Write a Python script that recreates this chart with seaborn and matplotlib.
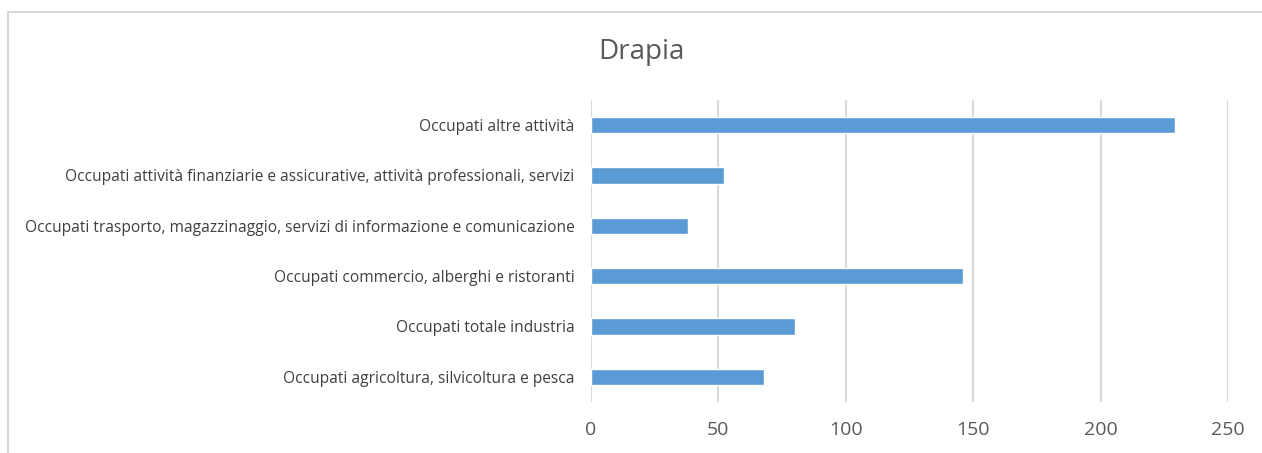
import matplotlib
matplotlib.use("Agg")
import matplotlib.pyplot as plt
import seaborn as sns
import pandas as pd
from matplotlib.lines import Line2D

# Dati (dall'alto verso il basso)
categorie = [
    "Occupati altre attività",
    "Occupati attività finanziarie e assicurative, attività professionali, servizi",
    "Occupati trasporto, magazzinaggio, servizi di informazione e comunicazione",
    "Occupati commercio, alberghi e ristoranti",
    "Occupati totale industria",
    "Occupati agricoltura, silvicoltura e pesca",
]
valori = [229, 52, 38, 146, 80, 68]
x_ticks = [0, 50, 100, 150, 200, 250]

sns.set_theme(style="white")
plt.rcParams["font.family"] = ["Open Sans", "DejaVu Sans"]

df = pd.DataFrame({"categoria": categorie, "valore": valori})

fig = plt.figure(figsize=(12.62, 4.53), dpi=100)
ax = fig.add_axes([0.4683, 0.1126, 0.5048, 0.6667])

sns.barplot(data=df, x="valore", y="categoria", order=categorie,
            color="#5B9BD5", width=0.33, ax=ax, saturation=1)

ax.set_xlim(0, 250)
ax.set_xticks(x_ticks)
ax.set_xticklabels([str(t) for t in x_ticks], fontsize=14, color="#595959")
ax.set_yticklabels(categorie, fontsize=11.2, color="#404040")
ax.set_xlabel("")
ax.set_ylabel("")
ax.xaxis.grid(True, color="#d9d9d9", linewidth=1.5)
ax.set_axisbelow(True)
for s in ax.spines.values():
    s.set_visible(False)
ax.tick_params(axis="x", length=0, pad=14)
ax.tick_params(axis="y", length=0, pad=12)

fig.text(0.508, 0.885, "Drapia", ha="center", va="center",
         fontsize=20, color="#595959")

# cornice del grafico
fig.add_artist(Line2D([8 / 1262, 8 / 1262], [0, 1 - 12 / 453],
                      color="#d9d9d9", linewidth=1.5))
fig.add_artist(Line2D([8 / 1262, 1], [1 - 12 / 453, 1 - 12 / 453],
                      color="#d9d9d9", linewidth=1.5))

fig.savefig("out.png", dpi=100, facecolor="white")
